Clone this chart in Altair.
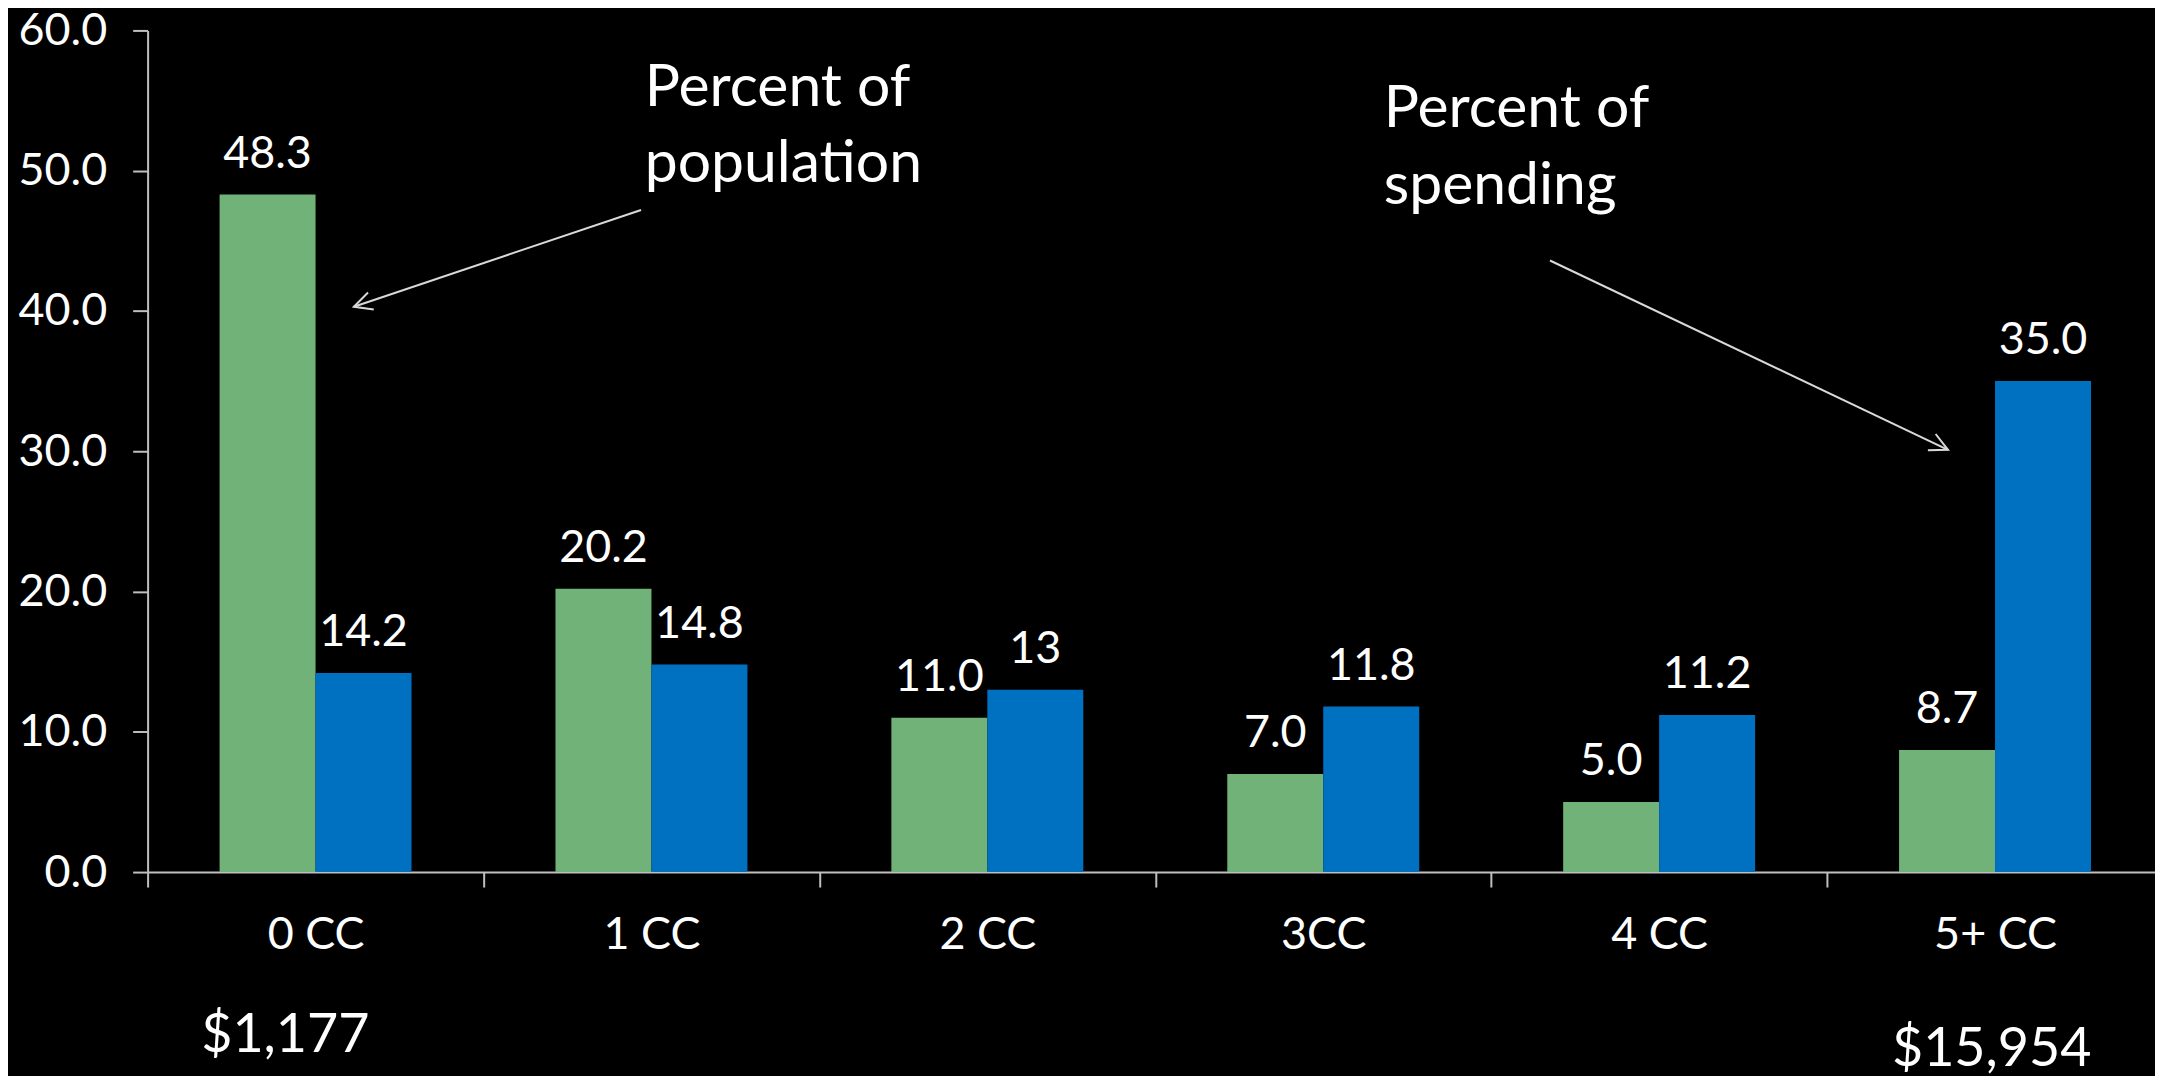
import altair as alt
import pandas as pd

# ---- data ----
categories = ["0 CC", "1 CC", "2 CC", "3CC", "4 CC", "5+ CC"]
series = ["Percent of population", "Percent of spending"]
population = [48.3, 20.2, 11.0, 7.0, 5.0, 8.7]
spending = [14.2, 14.8, 13, 11.8, 11.2, 35.0]
population_labels = ["48.3", "20.2", "11.0", "7.0", "5.0", "8.7"]
spending_labels = ["14.2", "14.8", "13", "11.8", "11.2", "35.0"]
y_ticks = [0, 10, 20, 30, 40, 50, 60]

# annotation texts (x in category units 0..6, y in data units)
note_text = ["Percent of", "population", "Percent of", "spending"]
note_x = [1.48, 1.48, 3.68, 3.68]
note_y = [55.9, 50.5, 54.4, 48.9]

money_text = ["$1,177", "$15,954"]
money_x = [0.41, 5.49]
money_y = [-11.7, -12.7]

# arrows: tail (x, y) -> tip (x2, y2)
arrow_x = [1.469, 4.175]
arrow_y = [47.2, 43.6]
arrow_x2 = [0.614, 5.36]
arrow_y2 = [40.3, 30.1]
arrow_angle = [251.4, 115.5]

GREEN = "#70b277"
BLUE = "#0070c0"
AXIS = "#bfbfbf"
FONT = "Lato"
FS = 45

bars_df = pd.DataFrame({
    "category": categories * 2,
    "series": [series[0]] * 6 + [series[1]] * 6,
    "value": population + spending,
    "label": population_labels + spending_labels,
})
notes_df = pd.DataFrame({"text": note_text, "x": note_x, "y": note_y})
money_df = pd.DataFrame({"text": money_text, "x": money_x, "y": money_y})
arrows_df = pd.DataFrame({"x": arrow_x, "y": arrow_y, "x2": arrow_x2,
                          "y2": arrow_y2, "angle": arrow_angle})

XR = [0, 2021]
y_scale = alt.Scale(domain=[0, 60], nice=False)
x_scale = alt.Scale(domain=categories, paddingInner=0, paddingOuter=0, range=XR)
off_scale = alt.Scale(domain=series, paddingInner=0, paddingOuter=0.75)

x_axis = alt.Axis(title=None, labelAngle=0, labelFontSize=FS, labelColor="white",
                  labelFont=FONT, tickBand="extent", tickSize=15, tickWidth=2,
                  tickColor=AXIS, domainColor=AXIS, domainWidth=2,
                  labelPadding=26, grid=False)
y_axis = alt.Axis(title=None, values=y_ticks, format=".1f", labelFontSize=FS,
                  labelColor="white", labelFont=FONT, tickSize=15, tickWidth=2,
                  tickColor=AXIS, domainColor=AXIS, domainWidth=2,
                  labelPadding=26, grid=False)

base = alt.Chart(bars_df)

bars = base.mark_bar().encode(
    x=alt.X("category:N", sort=categories, scale=x_scale, axis=x_axis),
    xOffset=alt.XOffset("series:N", sort=series, scale=off_scale),
    y=alt.Y("value:Q", scale=y_scale, axis=y_axis),
    color=alt.Color("series:N", scale=alt.Scale(domain=series, range=[GREEN, BLUE]),
                    legend=None),
)

labels = base.mark_text(baseline="bottom", dy=-18, fontSize=FS, color="white",
                        font=FONT).encode(
    x=alt.X("category:N", sort=categories, scale=x_scale, axis=x_axis),
    xOffset=alt.XOffset("series:N", sort=series, scale=off_scale),
    y=alt.Y("value:Q", scale=y_scale, axis=y_axis),
    text="label:N",
)

bar_layer = alt.layer(bars, labels)

nx = alt.Scale(domain=[0, 6], nice=False, zero=False, range=XR)

notes = alt.Chart(notes_df).mark_text(baseline="middle", align="left", color="white",
                                      font=FONT, fontSize=59).encode(
    x=alt.X("x:Q", scale=nx, axis=None),
    y=alt.Y("y:Q", scale=y_scale),
    text="text:N",
)

money = alt.Chart(money_df).mark_text(baseline="middle", align="center", color="white",
                                      font=FONT, fontSize=54).encode(
    x=alt.X("x:Q", scale=nx, axis=None),
    y=alt.Y("y:Q", scale=y_scale),
    text="text:N",
)

arrow_lines = alt.Chart(arrows_df).mark_rule(color="#d9d9d9", strokeWidth=2).encode(
    x=alt.X("x:Q", scale=nx, axis=None),
    y=alt.Y("y:Q", scale=y_scale),
    x2="x2:Q",
    y2="y2:Q",
)

arrow_heads = alt.Chart(arrows_df).mark_point(
    shape="M -0.5 1 L 0 0 L 0.5 1", filled=False, color="#d9d9d9",
    strokeWidth=2, size=1300, opacity=1,
).encode(
    x=alt.X("x2:Q", scale=nx, axis=None),
    y=alt.Y("y2:Q", scale=y_scale),
    angle=alt.Angle("angle:Q", scale=None),
)

ann_layer = alt.layer(notes, money, arrow_lines, arrow_heads)

chart = alt.layer(bar_layer, ann_layer).resolve_scale(x="independent").properties(
    width=2013,
    height=844,
    autosize="none",
    padding={"left": 140, "top": 21, "right": 0, "bottom": 203},
    background="black",
).configure_view(stroke=None).configure_text(font=FONT)

chart.save("out.html", embed_options={"renderer": "svg", "actions": False})
